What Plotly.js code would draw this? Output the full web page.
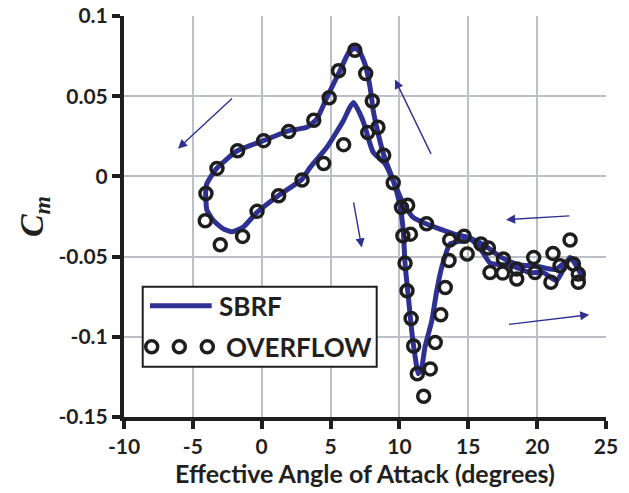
<!DOCTYPE html>
<html>
<head>
<meta charset="utf-8">
<script src="https://cdn.plot.ly/plotly-3.0.1.min.js"></script>
<style>html,body{margin:0;padding:0;background:#fff;}#chart{width:629px;height:493px;}</style>
</head>
<body>
<div id="chart"></div>
<script>
// OVERFLOW (CFD) points
const ovX = [-4.10,-3.01,-4.05,-3.25,-1.75,0.14,1.96,3.78,-1.39,-0.34,1.23,2.93,4.50,5.95,4.90,5.58,6.76,7.55,8.03,8.44,7.70,8.86,9.55,10.15,10.60,11.97,10.25,10.80,10.41,10.55,10.85,11.03,11.30,11.76,12.24,12.60,13.00,13.33,13.60,13.65,14.70,14.92,15.92,16.46,16.58,17.50,17.55,18.52,18.52,19.75,19.85,21.00,21.15,21.66,22.39,22.63,22.99,22.99];
const ovY = [-0.0276,-0.0426,-0.0106,0.0050,0.0160,0.0223,0.0280,0.0350,-0.0374,-0.0218,-0.0120,-0.0022,0.0080,0.0198,0.0490,0.0659,0.0786,0.0642,0.0470,0.0306,0.0273,0.0132,-0.0040,-0.0193,-0.0180,-0.0295,-0.0370,-0.0360,-0.0542,-0.0713,-0.0886,-0.1058,-0.1230,-0.1370,-0.1200,-0.1035,-0.0862,-0.0692,-0.0524,-0.0397,-0.0373,-0.0484,-0.0422,-0.0446,-0.0599,-0.0603,-0.0515,-0.0577,-0.0640,-0.0505,-0.0599,-0.0660,-0.0480,-0.0557,-0.0397,-0.0546,-0.0609,-0.0660];

// SBRF model hysteresis loop (upstroke then downstroke)
const sbrfX = [-4.07,-3.98,-3.50,-2.77,-2.16,-1.32,-0.34,1.20,2.90,3.51,4.72,5.93,6.40,6.68,7.14,7.50,7.80,8.10,8.95,9.60,10.04,10.28,10.41,10.65,10.89,11.10,11.37,11.60,11.85,12.35,12.71,13.07,13.67,14.64,15.13,15.80,16.58,17.50,18.27,19.48,20.45,21.42,22.39,23.00,23.36,
               23.10,22.50,21.30,20.00,18.60,17.30,16.20,15.00,14.00,13.00,11.97,11.00,10.29,9.57,8.84,8.35,8.10,7.87,7.50,7.10,6.75,6.30,5.69,4.72,4.00,3.27,2.01,0.12,-1.77,-3.27,-3.99,-4.07];
const sbrfY = [-0.0106,-0.0210,-0.0276,-0.0328,-0.0345,-0.0314,-0.0224,-0.0120,-0.0020,0.0056,0.0180,0.0347,0.0430,0.0460,0.0390,0.0310,0.0220,0.0150,0.0080,-0.0040,-0.0183,-0.0339,-0.0546,-0.0754,-0.0960,-0.1100,-0.1230,-0.1200,-0.1066,-0.0900,-0.0713,-0.0567,-0.0422,-0.0400,-0.0390,-0.0440,-0.0540,-0.0550,-0.0560,-0.0600,-0.0600,-0.0650,-0.0505,-0.0580,-0.0640,
               -0.0580,-0.0510,-0.0580,-0.0560,-0.0550,-0.0500,-0.0430,-0.0380,-0.0360,-0.0330,-0.0297,-0.0256,-0.0172,-0.0027,0.0140,0.0306,0.0410,0.0555,0.0700,0.0780,0.0800,0.0770,0.0660,0.0490,0.0358,0.0306,0.0285,0.0223,0.0160,0.0050,-0.0047,-0.0106];

// Tick labels
const xTickVals = [-10,-5,0,5,10,15,20,25];
const xTickText = ['-10','-5','0','5','10','15','20','25'];
const yTickVals = [-0.15,-0.1,-0.05,0,0.05,0.1];
const yTickText = ['-0.15','-0.1','-0.05','0','0.05','0.1'];

const BLUE = '#2e3192';
const INK = '#1e1e1e';
const FONT = 'Lato, "Open Sans", sans-serif';

const traces = [
  {x: sbrfX, y: sbrfY, type: 'scatter', mode: 'lines', name: 'SBRF',
   line: {color: BLUE, width: 5, shape: 'spline', smoothing: 0.5}, showlegend: false, hoverinfo: 'skip'},
  {x: ovX, y: ovY, type: 'scatter', mode: 'markers', name: 'OVERFLOW',
   marker: {symbol: 'circle-open', size: 12, color: INK, line: {width: 3.5, color: INK}}, showlegend: false, hoverinfo: 'skip'}
];

function arrow(hx, hy, tx, ty) {
  return {x: hx, y: hy, ax: tx, ay: ty, xref: 'x', yref: 'y', axref: 'x', ayref: 'y',
          text: ' ', showarrow: true, arrowhead: 2, arrowsize: 1.3, arrowwidth: 1.4, arrowcolor: BLUE};
}

function px2paperX(p){ return (p - 124) / 482; }
function px2paperY(p){ return (417 - p) / 401; }

const legCircles = [151.7, 179.3, 207.3].map(cx => ({
  type: 'circle', xref: 'paper', yref: 'paper', layer: 'above',
  xsizemode: 'pixel', ysizemode: 'pixel',
  xanchor: px2paperX(cx), yanchor: px2paperY(346.7),
  x0: -6, x1: 6, y0: -6, y1: 6,
  line: {color: INK, width: 3.5}, fillcolor: 'rgba(0,0,0,0)'
}));

const layout = {
  width: 629, height: 493,
  margin: {l: 124, r: 23, t: 16, b: 76, pad: 0},
  paper_bgcolor: '#fff', plot_bgcolor: '#fff',
  showlegend: false,
  xaxis: {
    range: [-10, 25], tickvals: xTickVals, ticktext: xTickText,
    showgrid: true, gridcolor: '#bcc0c6', gridwidth: 2, zeroline: false,
    showline: true, linecolor: INK, linewidth: 4,
    ticks: 'outside', ticklen: 8, tickwidth: 4, tickcolor: INK,
    tickfont: {family: FONT, size: 21, weight: 'bold', color: '#231f20'},
    title: {text: 'Effective Angle of Attack (degrees)', standoff: 4,
            font: {family: FONT, size: 25, weight: 'bold', color: '#231f20'}}
  },
  yaxis: {
    range: [-0.15, 0.1], tickvals: yTickVals, ticktext: yTickText,
    showgrid: true, gridcolor: '#bcc0c6', gridwidth: 2, zeroline: false,
    showline: true, linecolor: INK, linewidth: 4,
    ticks: 'outside', ticklen: 8, tickwidth: 4, tickcolor: INK,
    tickfont: {family: FONT, size: 21, weight: 'bold', color: '#231f20'},
    title: {text: 'C<sub>m</sub>', standoff: 6,
            font: {family: '"Liberation Serif", "DejaVu Serif", serif', size: 34, weight: 'bold', style: 'italic', color: '#231f20'}}
  },
  shapes: [
    {type: 'rect', xref: 'paper', yref: 'paper', layer: 'above',
     x0: px2paperX(142.7), x1: px2paperX(376.7), y0: px2paperY(366.7), y1: px2paperY(286.7),
     line: {color: INK, width: 2}, fillcolor: '#ffffff'},
    {type: 'line', xref: 'paper', yref: 'paper', layer: 'above',
     x0: px2paperX(150), x1: px2paperX(211.7), y0: px2paperY(305.7), y1: px2paperY(305.7),
     line: {color: BLUE, width: 5}}
  ].concat(legCircles),
  annotations: [
    arrow(-6.08, 0.0173, -1.94, 0.0503),
    arrow(9.68, 0.0604, 12.51, 0.0102),
    arrow(7.26, -0.0443, 6.54, -0.010),
    arrow(17.74, -0.027, 22.56, -0.0245),
    arrow(23.79, -0.0862, 17.74, -0.0925),
    {xref: 'paper', yref: 'paper', x: px2paperX(217), y: px2paperY(306), xanchor: 'left', yanchor: 'middle',
     text: 'SBRF', showarrow: false, font: {family: FONT, size: 26, weight: 'bold', color: '#231f20'}},
    {xref: 'paper', yref: 'paper', x: px2paperX(224), y: px2paperY(347), xanchor: 'left', yanchor: 'middle',
     text: 'OVERFLOW', showarrow: false, font: {family: FONT, size: 26, weight: 'bold', color: '#231f20'}}
  ]
};

Plotly.newPlot('chart', traces, layout, {displayModeBar: false, staticPlot: true});
</script>
</body>
</html>
